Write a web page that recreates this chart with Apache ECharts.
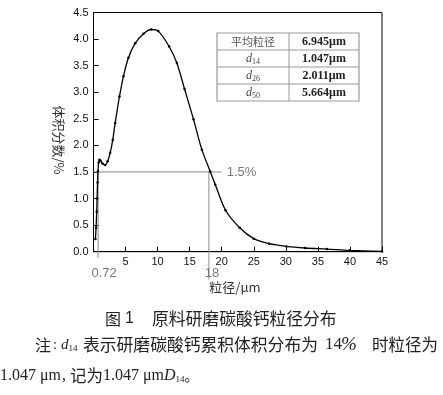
<!DOCTYPE html>
<html><head><meta charset="utf-8">
<script src="https://cdn.jsdelivr.net/npm/echarts@6/dist/echarts.min.js"></script>
<style>html,body{margin:0;padding:0;background:#fff}#c{width:443px;height:395px}</style>
</head><body><div id="c"></div>
<script>
const sizeUm = [0.3,0.4,0.5,0.56,0.63,0.7,0.8,0.93,1.1,1.4,1.82,2.2,2.6,3.0,3.38,4.05,4.67,5.45,6.5,7.8,9.0,10.1,11.8,13.0,14.2,15.6,16.9,18.2,19.0,20.6,22.8,25.0,27.4,30.1,33.0,36.4,40.0,45.0];
const volPct = [0.24,0.45,0.75,1.0,1.3,1.52,1.68,1.73,1.71,1.66,1.63,1.7,1.86,2.1,2.42,2.92,3.30,3.65,3.92,4.10,4.18,4.15,3.86,3.55,3.06,2.49,1.92,1.51,1.26,0.78,0.45,0.245,0.15,0.10,0.07,0.05,0.025,0.005];
const refLevel = 1.5;
const refX1 = 0.72, refX2 = 18, refLineEnd = 20;
const tableLabels = ['平均粒径','d14','d26','d50'];
const tableValues = ['6.945μm','1.047μm','2.011μm','5.664μm'];
const yTicks = {min:0, max:4.5, interval:0.5};
const xTicks = {min:0, max:45, interval:5};

const chart = echarts.init(document.getElementById('c'));
const sans = 'Liberation Sans, Arial, sans-serif';
const cjk = 'Noto Sans CJK SC, sans-serif';
const serif = 'Liberation Serif, DejaVu Serif, serif';

chart.setOption({
  animation:false,
  grid:{left:93.5, right:61, top:12.5, bottom:143.3, show:true, borderColor:'#000', borderWidth:1},
  xAxis:{type:'value', min:xTicks.min, max:xTicks.max, interval:xTicks.interval,
    axisLine:{lineStyle:{color:'#000',width:1}}, axisTick:{inside:true,length:5,lineStyle:{color:'#000'}},
    splitLine:{show:false},
    axisLabel:{color:'#111',fontFamily:sans,fontSize:11,margin:5,formatter:v=>v===0?'':String(v)}},
  yAxis:{type:'value', min:yTicks.min, max:yTicks.max, interval:yTicks.interval,
    axisLine:{show:true,lineStyle:{color:'#000',width:1}}, axisTick:{show:true,inside:true,length:5,lineStyle:{color:'#000'}},
    splitLine:{show:false},
    axisLabel:{color:'#111',fontFamily:sans,fontSize:11,margin:5,formatter:v=>v.toFixed(1)}},
  series:[{type:'line', data:sizeUm.map((x,i)=>[x,volPct[i]]), smooth:0.3,
    symbol:'circle', symbolSize:2.5, showSymbol:true,
    lineStyle:{color:'#000',width:1.3}, itemStyle:{color:'#000'}, z:5}]
});

const P = (x,y)=>chart.convertToPixel({gridIndex:0},[x,y]);
const g = [];
const gray = '#8a8a8a';
const p0 = P(0,refLevel), pE = P(refLineEnd,refLevel);
g.push({type:'line',shape:{x1:p0[0],y1:p0[1],x2:pE[0],y2:pE[1]},style:{stroke:gray,lineWidth:1},z:3});
g.push({type:'text',x:pE[0]+5,y:pE[1],style:{text:'1.5%',fill:'#777',font:'13px '+sans,textVerticalAlign:'middle'},z:3});
const a1 = P(refX1,refLevel), a0 = P(refX1,0);
g.push({type:'line',shape:{x1:a1[0],y1:a1[1],x2:a0[0],y2:a0[1]+6},style:{stroke:gray,lineWidth:1},z:3});
g.push({type:'text',x:a0[0]+6,y:a0[1]+22,style:{text:'0.72',fill:'#777',font:'13px '+sans,textAlign:'center',textVerticalAlign:'middle'},z:3});
const b1 = P(refX2,refLevel), b0 = P(refX2,0);
g.push({type:'line',shape:{x1:b1[0],y1:b1[1],x2:b0[0],y2:b0[1]+28},style:{stroke:gray,lineWidth:1},z:3});
g.push({type:'text',x:b0[0]+3,y:b0[1]+22,style:{text:'18',fill:'#777',font:'13px '+sans,textAlign:'center',textVerticalAlign:'middle'},z:3});

// axis names
g.push({type:'text',x:59,y:140,rotation:-Math.PI/2,originX:0,originY:0,style:{text:'体积分数/%',fill:'#333',font:'13px '+cjk,textAlign:'center',textVerticalAlign:'middle'}});
g.push({type:'text',x:235,y:287,style:{text:'粒径/μm',fill:'#333',font:'13px '+cjk,textAlign:'center',textVerticalAlign:'middle'}});

// table
const tx0=217, tx1=289, tx2=359, ty0=33, rh=17;
g.push({type:'rect',shape:{x:tx0,y:ty0,width:tx2-tx0,height:rh*4},style:{fill:'#fff',stroke:'#999',lineWidth:1.2},z:6});
for(let i=1;i<4;i++) g.push({type:'line',shape:{x1:tx0,y1:ty0+rh*i,x2:tx2,y2:ty0+rh*i},style:{stroke:'#999',lineWidth:1},z:7});
g.push({type:'line',shape:{x1:tx1,y1:ty0,x2:tx1,y2:ty0+rh*4},style:{stroke:'#999',lineWidth:1},z:7});
tableLabels.forEach((lab,i)=>{
  const cy = ty0+rh*i+rh/2;
  let txt;
  if(i===0){ txt='{c|'+lab+'}'; }
  else { txt='{d|'+lab[0]+'}{s|'+lab.slice(1)+'}'; }
  g.push({type:'text',x:(tx0+tx1)/2,y:cy,z:8,style:{text:txt,textAlign:'center',textVerticalAlign:'middle',
    rich:{c:{font:'11px '+cjk,fill:'#555'},d:{font:'italic 12px '+serif,fill:'#444'},s:{font:'8px '+serif,fill:'#444',padding:[6,0,0,0]}}}});
  g.push({type:'text',x:(tx1+tx2)/2,y:cy,z:8,style:{text:tableValues[i],fill:'#222',font:'bold 12px '+serif,textAlign:'center',textVerticalAlign:'middle'}});
});

// caption
g.push({type:'text',x:105,y:319,style:{text:'图',fill:'#222',font:'16px '+cjk,textVerticalAlign:'middle'}});
g.push({type:'text',x:125,y:319,style:{text:'1',fill:'#222',font:'16px '+sans,textVerticalAlign:'middle'}});
g.push({type:'text',x:152,y:319,style:{text:'原料研磨碳酸钙粒径分布',fill:'#222',font:'16.8px '+cjk,textVerticalAlign:'middle'}});
// note
const ny1=345, ny2=376;
g.push({type:'text',x:35,y:ny1,style:{text:'注',fill:'#222',font:'16px '+cjk,textVerticalAlign:'middle'}});
g.push({type:'text',x:53,y:ny1,style:{text:':',fill:'#222',font:'14px '+serif,textVerticalAlign:'middle'}});
g.push({type:'text',x:61,y:ny1,style:{text:'{d|d}{s|14}',textVerticalAlign:'middle',rich:{d:{font:'italic 15px '+serif,fill:'#222'},s:{font:'9px '+serif,fill:'#222',padding:[7,0,0,0]}}}});
g.push({type:'text',x:83,y:ny1,style:{text:'表示研磨碳酸钙累积体积分布为',fill:'#222',font:'16.8px '+cjk,textVerticalAlign:'middle'}});
g.push({type:'text',x:325,y:ny1,style:{text:'14',fill:'#222',font:'17px '+serif,textVerticalAlign:'middle'}});
g.push({type:'text',x:341,y:ny1,style:{text:'%',fill:'#222',font:'italic 19px '+serif,textVerticalAlign:'middle'}});
g.push({type:'text',x:372,y:ny1,style:{text:'时粒径为',fill:'#222',font:'16.5px '+cjk,textVerticalAlign:'middle'}});
g.push({type:'text',x:0,y:ny2,style:{text:'1.047 μm',fill:'#222',font:'16px '+serif,textVerticalAlign:'middle'}});
g.push({type:'text',x:62,y:ny2,style:{text:',',fill:'#222',font:'16px '+serif,textVerticalAlign:'middle'}});
g.push({type:'text',x:70,y:ny2,style:{text:'记为',fill:'#222',font:'16.5px '+cjk,textVerticalAlign:'middle'}});
g.push({type:'text',x:103,y:ny2,style:{text:'{n|1.047 μm}{D|D}{s|14}{p|。}',textVerticalAlign:'middle',
  rich:{n:{font:'16px '+serif,fill:'#222'},D:{font:'italic 16px '+serif,fill:'#222'},s:{font:'9px '+serif,fill:'#222',padding:[7,0,0,0]},p:{font:'14px '+cjk,fill:'#222'}}}});

chart.setOption({graphic:{elements:g}});
</script>
</body></html>
